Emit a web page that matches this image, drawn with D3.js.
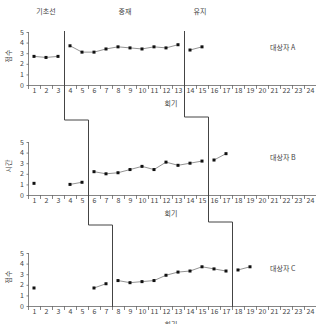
<!DOCTYPE html>
<html>
<head>
<meta charset="utf-8">
<script src="https://cdn.jsdelivr.net/npm/d3@7"></script>
<style>
  body { margin: 0; background: #fff; }
  text { font-family: "Noto Sans CJK KR", "DejaVu Sans", sans-serif; fill: #444; }
</style>
</head>
<body>
<div id="container"></div>
<script>
(function () {
	// data
	var sessions = d3.range(1, 25);
	var phaseNames = ["기초선", "중재", "유지"];
	var subjects = ["대상자 A", "대상자 B", "대상자 C"];
	var yLabels = ["점수", "시간", "점수"];
	var yTicks = [0, 1, 2, 3, 4, 5];
	// last session of baseline and of intervention, per subject
	var phaseEnds = [[3, 13], [5, 15], [7, 17]];

	// values (null = not measured)
	var valuesA = [2.7, 2.6, 2.7, 3.7, 3.1, 3.1, 3.4, 3.6, 3.5, 3.4, 3.6, 3.5, 3.8, 3.3, 3.6];
	var valuesB = [1.1, null, null, 1.0, 1.2, 2.2, 2.0, 2.1, 2.4, 2.7, 2.4, 3.1, 2.8, 3.0, 3.2, 3.3, 3.9];
	var valuesC = [1.7, null, null, null, null, 1.7, 2.1, 2.4, 2.2, 2.3, 2.4, 2.9, 3.2, 3.3, 3.7, 3.5, 3.3, 3.4, 3.7];
	var allValues = [valuesA, valuesB, valuesC];

	var W = 318, H = 324;
	var zeros = [85, 195, 306], plotH = 53;

	var svg = d3.select("#container").append("svg")
		.attr("width", W).attr("height", H);

	var x = d3.scaleBand()
		.domain(sessions)
		.range([28, 316]);

	// phase titles
	var titleX = [46, 125, 200];
	svg.selectAll(".phase")
		.data(phaseNames)
		.enter().append("text")
			.attr("x", (d, i) => titleX[i])
			.attr("y", 14)
			.attr("text-anchor", "middle")
			.style("font-size", "7px")
			.text(d => d);

	allValues.forEach(function (vals, p) {
		var y = d3.scaleLinear().domain([0, 5]).range([zeros[p], zeros[p] - plotH]);
		var g = svg.append("g");

		// y axis
		g.append("line")
			.attr("x1", 28.5).attr("x2", 28.5)
			.attr("y1", y(5)).attr("y2", y(0))
			.attr("stroke", "#666").attr("stroke-width", 0.8);
		g.selectAll(".yt")
			.data(yTicks)
			.enter().append("line")
				.attr("x1", 26.5).attr("x2", 28.5)
				.attr("y1", d => y(d) + 0.5).attr("y2", d => y(d) + 0.5)
				.attr("stroke", "#666").attr("stroke-width", 0.8);
		g.selectAll(".yl")
			.data(yTicks)
			.enter().append("text")
				.attr("x", 24)
				.attr("y", d => y(d) + 2.5)
				.attr("text-anchor", "end")
				.style("font-size", "7px")
				.text(d => d);

		// x axis
		g.append("line")
			.attr("x1", 28).attr("x2", 316)
			.attr("y1", y(0) + 0.5).attr("y2", y(0) + 0.5)
			.attr("stroke", "#666").attr("stroke-width", 0.8);
		g.selectAll(".xt")
			.data(sessions)
			.enter().append("line")
				.attr("x1", d => x(d) + 0.5).attr("x2", d => x(d) + 0.5)
				.attr("y1", y(0)).attr("y2", y(0) + 4)
				.attr("stroke", "#666").attr("stroke-width", 0.8);
		g.selectAll(".xl")
			.data(sessions)
			.enter().append("text")
				.attr("x", d => x(d) + x.bandwidth() / 2 + 0.5)
				.attr("y", y(0) + 8)
				.attr("text-anchor", "middle")
				.style("font-size", "7px")
				.text(d => d);

		g.append("text")
			.attr("x", 171).attr("y", y(0) + 21)
			.attr("text-anchor", "middle")
			.style("font-size", "7px")
			.text("회기");

		g.append("text")
			.attr("transform", "translate(11," + (y(0) - 29) + ") rotate(-90)")
			.attr("text-anchor", "middle")
			.style("font-size", "7px")
			.text(yLabels[p]);

		g.append("text")
			.attr("x", 270).attr("y", y(0) - 35)
			.style("font-size", "7px")
			.text(subjects[p]);

		// split into phase segments
		var pts = vals.map((v, i) => ({s: i + 1, v: v}));
		var ends = phaseEnds[p];
		var segs = [
			pts.filter(d => d.s <= ends[0]),
			pts.filter(d => d.s > ends[0] && d.s <= ends[1]),
			pts.filter(d => d.s > ends[1])
		];
		var line = d3.line()
			.defined(d => d.v !== null)
			.x(d => x(d.s) + x.bandwidth() / 2)
			.y(d => y(d.v));
		g.selectAll(".seg")
			.data(segs)
			.enter().append("path")
				.attr("d", line)
				.attr("fill", "none")
				.attr("stroke", "#777")
				.attr("stroke-width", 0.8);
		g.selectAll(".pt")
			.data(pts.filter(d => d.v !== null))
			.enter().append("rect")
				.attr("x", d => x(d.s) + x.bandwidth() / 2 - 1.5)
				.attr("y", d => y(d.v) - 1.5)
				.attr("width", 3).attr("height", 3)
				.attr("fill", "#111");
	});

	// phase change lines, stepping down across panels
	var stepY = [[120, 225], [117, 222]];
	[0, 1].forEach(function (k) {
		var xs = phaseEnds.map(e => x(e[k]) + x.bandwidth() + 0.5);
		var path = d3.path();
		path.moveTo(xs[0], 31);
		path.lineTo(xs[0], stepY[k][0]);
		path.lineTo(xs[1], stepY[k][0]);
		path.lineTo(xs[1], stepY[k][1]);
		path.lineTo(xs[2], stepY[k][1]);
		path.lineTo(xs[2], zeros[2] + 1);
		svg.append("path")
			.attr("d", path.toString())
			.attr("fill", "none")
			.attr("stroke", "#444")
			.attr("stroke-width", 1);
	});
})();
</script>
</body>
</html>
